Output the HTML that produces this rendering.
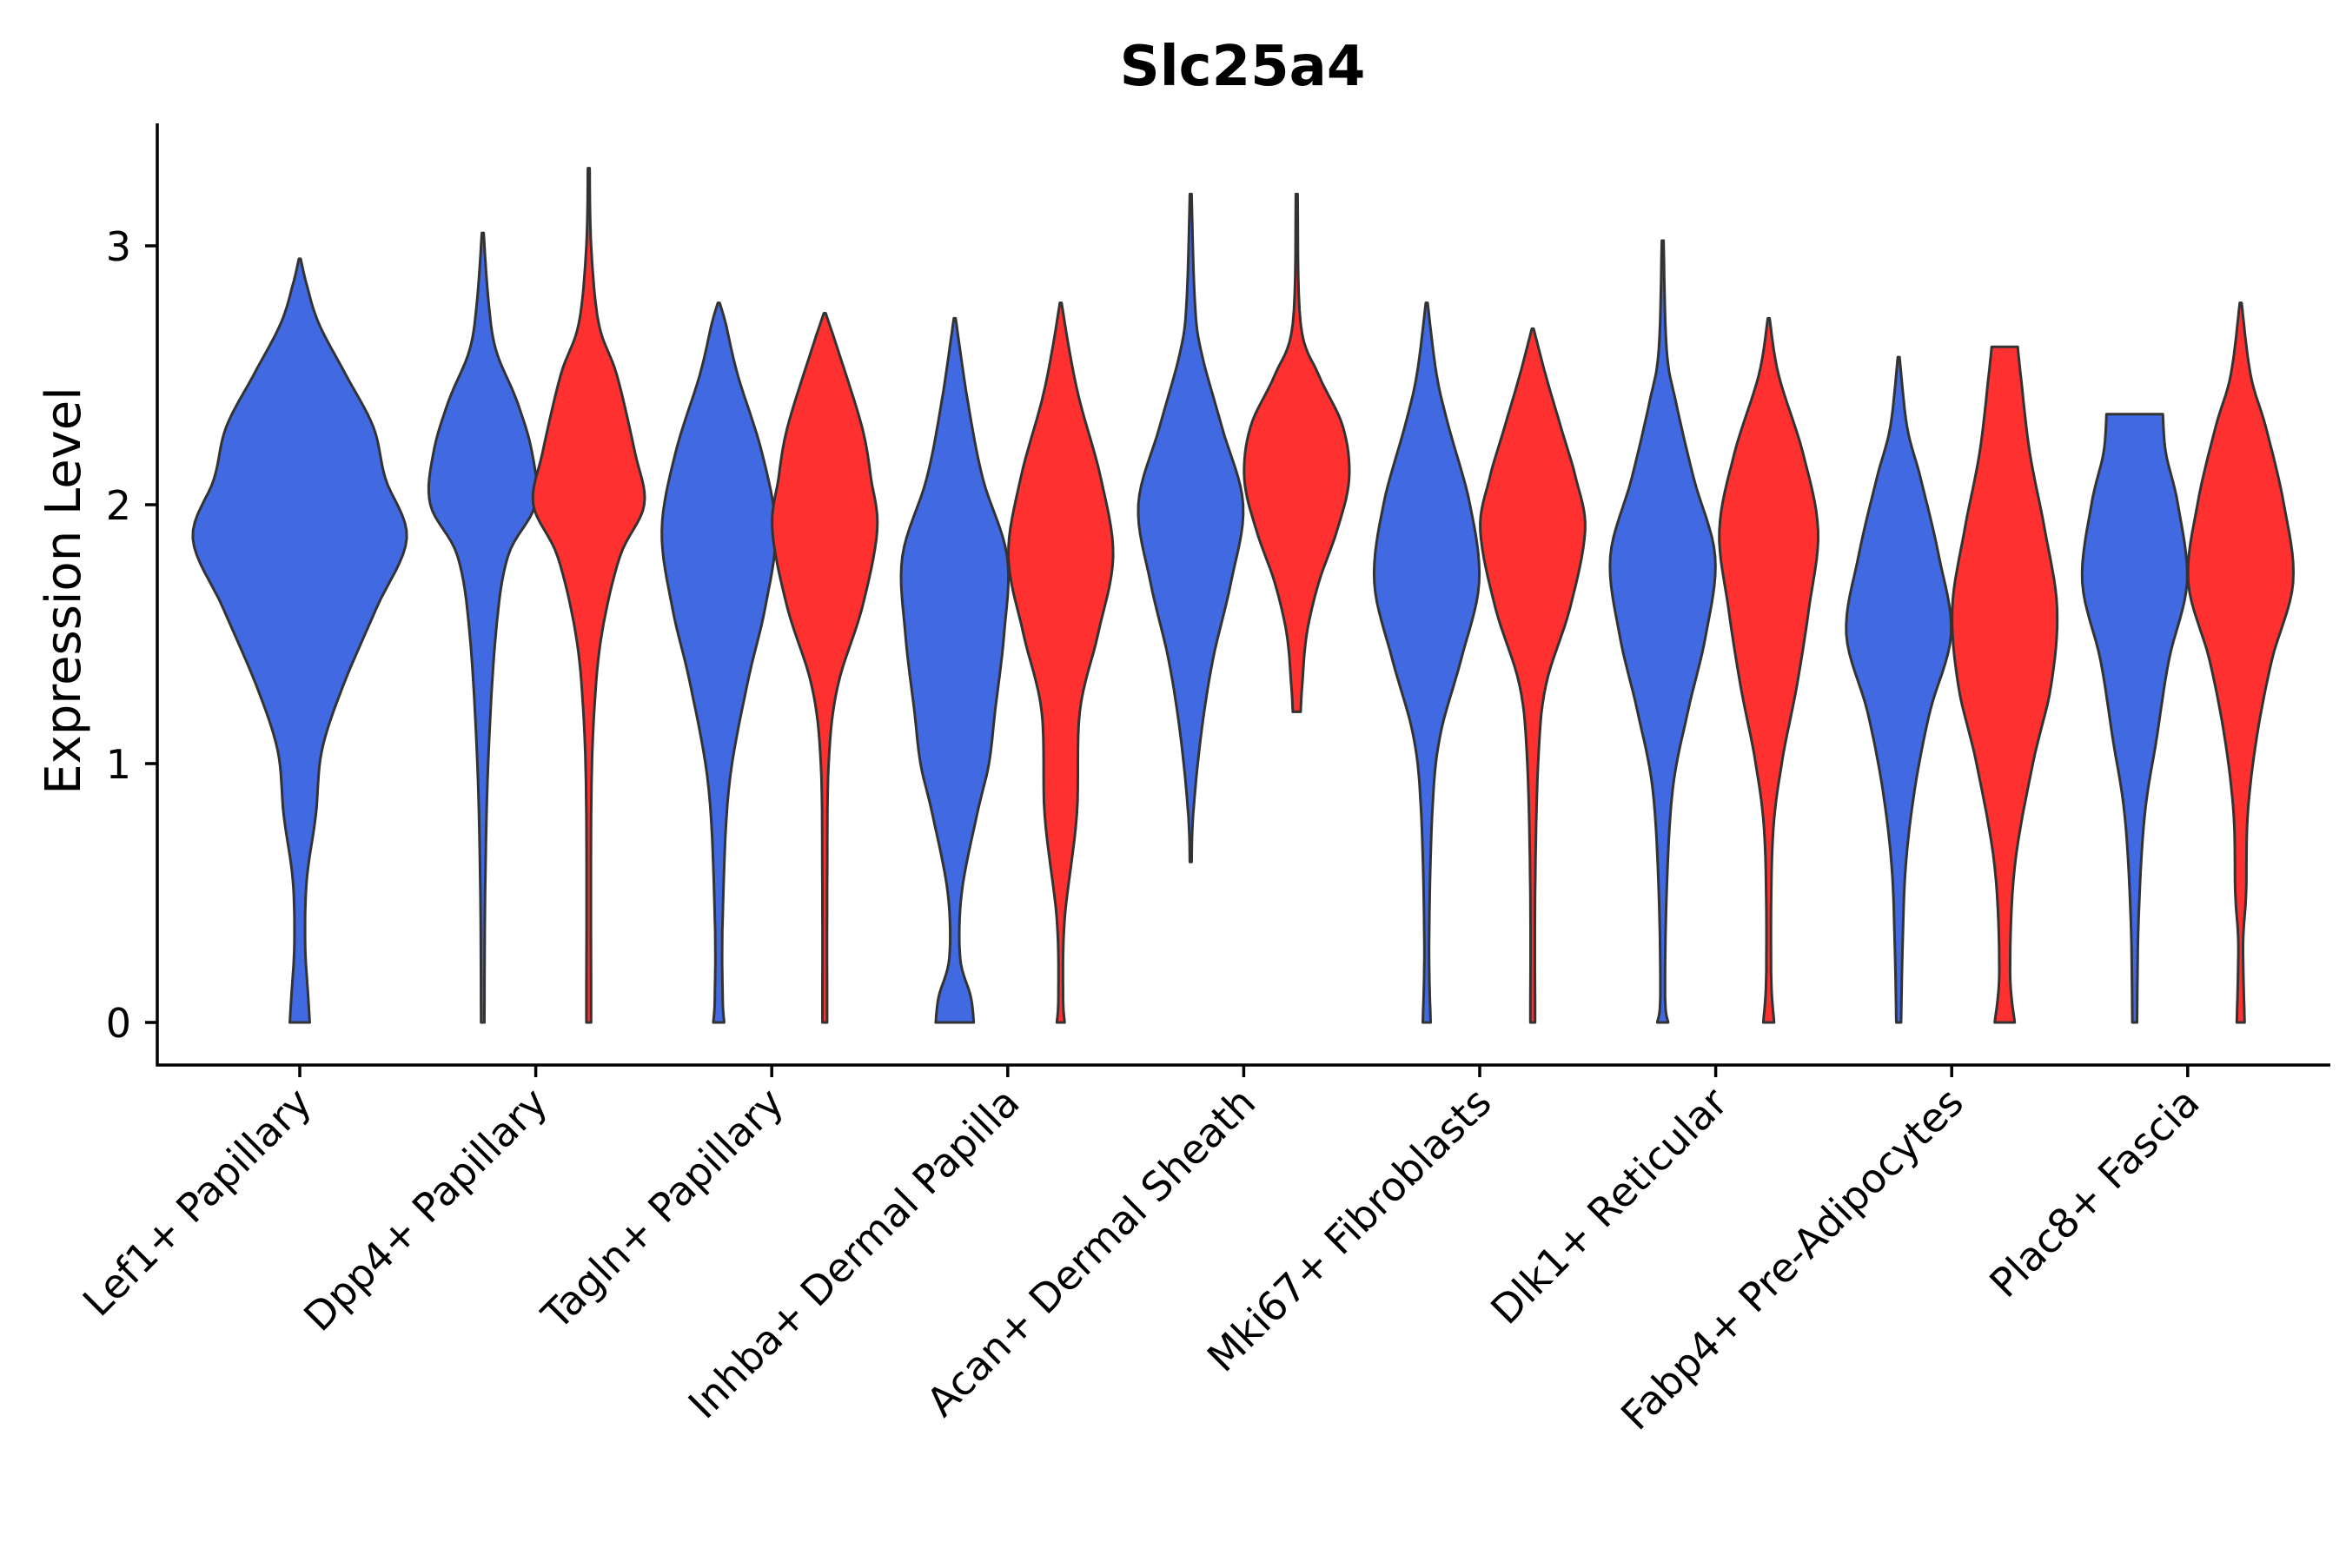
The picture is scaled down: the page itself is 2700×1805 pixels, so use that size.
<!DOCTYPE html>
<html><head><meta charset="utf-8"><style>
html,body{margin:0;padding:0;background:#fff}
svg text{font-family:"DejaVu Sans","Liberation Sans",sans-serif;fill:#000}
</style></head><body>
<svg id="chart" width="2700" height="1800" viewBox="0 0 2700 1800" xmlns="http://www.w3.org/2000/svg">
<text x="1430" y="98" font-size="64" font-weight="bold" text-anchor="middle">Slc25a4</text>
<text x="0" y="0" font-size="56" text-anchor="middle" transform="translate(92,680) rotate(-90)">Expression Level</text>
<g id="marks"></g>
<g id="axes"></g>
</svg>
<script>
const categories = ["Lef1+ Papillary","Dpp4+ Papillary","Tagln+ Papillary","Inhba+ Dermal Papilla","Acan+ Dermal Sheath","Mki67+ Fibroblasts","Dlk1+ Reticular","Fabp4+ Pre-Adipocytes","Plac8+ Fascia"];
const yTicks = [0,1,2,3];
// each violin: category index, group (0 = blue, 1 = red, -1 = single centered), profile [expression, density half-width]
const violinGroups = [-1,0,1,0,1,0,1,0,1,0,1,0,1,0,1,0,1];
const violinCats = [0,1,1,2,2,3,3,4,4,5,5,6,6,7,7,8,8];
const violinProfiles = [
 [[0,6],[0.1,5],[0.3,3],[0.55,4],[0.8,10],[1.05,14],[1.3,28],[1.6,50],[1.87,70],[2.1,56],[2.3,48],[2.5,30],[2.7,12],[2.85,4],[2.95,0]],
 [[0,0.5],[0.5,1],[1,3],[1.5,8],[1.8,16],[2.0,34],[2.2,32],[2.4,22],[2.6,8],[2.8,3],[3.05,0]],
 [[0,1],[0.8,1],[1.2,3],[1.5,8],[1.8,20],[2.0,36],[2.2,30],[2.5,18],[2.7,6],[3.0,1],[3.3,0]],
 [[0,3],[0.1,2],[0.4,2],[0.9,6],[1.3,18],[1.6,30],[1.9,37],[2.2,28],[2.5,12],[2.7,4],[2.78,0]],
 [[0,1],[0.5,1],[1.0,2],[1.3,8],[1.6,24],[1.9,34],[2.1,30],[2.3,24],[2.6,8],[2.74,0]],
 [[0,12],[0.1,10],[0.25,3],[0.5,4],[0.8,14],[1.0,22],[1.2,26],[1.5,32],[1.8,34],[2.1,18],[2.4,8],[2.72,0]],
 [[0,2],[0.1,1],[0.4,2],[0.8,10],[1.2,12],[1.5,24],[1.8,34],[2.1,26],[2.4,12],[2.6,5],[2.78,0]],
 [[0.62,0],[0.8,1],[1.1,6],[1.4,14],[1.7,26],[2.0,34],[2.3,20],[2.6,6],[2.8,2],[3.2,0]],
 [[1.2,2],[1.3,3],[1.5,6],[1.7,14],[1.9,26],[2.1,34],[2.3,30],[2.5,14],[2.7,2],[3.2,0]],
 [[0,2],[0.3,1],[0.8,3],[1.1,8],[1.4,22],[1.7,34],[2.0,28],[2.3,14],[2.5,6],[2.78,0]],
 [[0,1],[0.5,1],[1.0,3],[1.3,8],[1.6,24],[1.9,34],[2.1,28],[2.3,18],[2.5,8],[2.68,0]],
 [[0,3],[0.1,1],[0.5,2],[0.9,6],[1.2,16],[1.5,28],[1.8,34],[2.1,20],[2.4,8],[2.6,2],[3.02,0]],
 [[0,3],[0.2,1],[0.7,2],[1.0,8],[1.3,18],[1.6,26],[1.9,32],[2.2,22],[2.5,6],[2.72,0]],
 [[0,1],[0.3,2],[0.6,4],[0.9,10],[1.2,20],[1.5,34],[1.8,26],[2.1,14],[2.3,5],[2.57,0]],
 [[0,6],[0.2,3],[0.6,6],[1.0,18],[1.3,30],[1.6,34],[1.9,26],[2.2,16],[2.5,10],[2.61,8]],
 [[0,1],[0.4,2],[0.8,6],[1.1,14],[1.4,22],[1.7,34],[2.0,28],[2.2,20],[2.35,18]],
 [[0,2],[0.3,1],[0.5,3],[0.8,4],[1.1,10],[1.4,20],[1.7,34],[2.0,28],[2.3,16],[2.5,6],[2.78,0]]
];
const NS="http://www.w3.org/2000/svg";
const X0=181, X1=2682, YB=1226;
function yScale(v){return 1177 - v*298;}
function xScale(i){return 345 + i*271.6;}
function wScale(d){return d*1.744;}
const colors=["#4169E1","#FF3030"];
// Catmull-Rom smoothing of the profile half-width over y
function smooth(prof){
  const out=[];
  for(let i=0;i<prof.length-1;i++){
    const p0=prof[Math.max(0,i-1)],p1=prof[i],p2=prof[i+1],p3=prof[Math.min(prof.length-1,i+2)];
    for(let s=0;s<8;s++){
      const t=s/8,t2=t*t,t3=t2*t;
      const f=(a,b,c,d)=>0.5*((2*b)+(-a+c)*t+(2*a-5*b+4*c-d)*t2+(-a+3*b-3*c+d)*t3);
      out.push([f(p0[0],p1[0],p2[0],p3[0]),Math.max(0,f(p0[1],p1[1],p2[1],p3[1]))]);
    }
  }
  out.push(prof[prof.length-1]);
  return out;
}
const marks=document.getElementById('marks');
violinProfiles.forEach((prof,k)=>{
  const g=violinGroups[k];
  const cx=xScale(violinCats[k]) + (g<0?0:(g===0?-61:61));
  const sp=smooth(prof);
  const right=sp.map(p=>[cx+wScale(p[1])+1, yScale(p[0])]);
  const left=sp.slice().reverse().map(p=>[cx-wScale(p[1])-1, yScale(p[0])]);
  const pts=right.concat(left);
  const path=document.createElementNS(NS,'path');
  path.setAttribute('d','M'+pts.map(p=>p[0].toFixed(1)+','+p[1].toFixed(1)).join('L')+'Z');
  path.setAttribute('fill',colors[g<0?0:g]);
  path.setAttribute('stroke','#333');
  path.setAttribute('stroke-width','3');
  path.setAttribute('stroke-linejoin','round');
  
  
  marks.appendChild(path);
});
const axes=document.getElementById('axes');
function line(x1,y1,x2,y2,name){
  const l=document.createElementNS(NS,'line');
  l.setAttribute('x1',x1);l.setAttribute('y1',y1);l.setAttribute('x2',x2);l.setAttribute('y2',y2);
  l.setAttribute('stroke','#000');l.setAttribute('stroke-width','3.5');
  
  
  axes.appendChild(l);
}
line(X0,142,X0,YB+1.5,'y-axis-line');
line(X0-1.5,YB,X1,YB,'x-axis-line');
yTicks.forEach(t=>{
  line(X0-14,yScale(t),X0,yScale(t),'y-tick');
  const tx=document.createElementNS(NS,'text');
  tx.setAttribute('x',X0-30);tx.setAttribute('y',yScale(t)+17);
  tx.setAttribute('font-size','46');tx.setAttribute('text-anchor','end');
  tx.textContent=t;
  
  
  axes.appendChild(tx);
});
categories.forEach((c,i)=>{
  const x=xScale(i);
  line(x,YB,x,YB+14,'x-tick');
  const tx=document.createElementNS(NS,'text');
  tx.setAttribute('font-size','46');tx.setAttribute('text-anchor','end');
  tx.setAttribute('transform','translate('+(x+16)+','+(YB+46)+') rotate(-45)');
  tx.textContent=c;
  
  
  axes.appendChild(tx);
});
</script>
</body></html>
